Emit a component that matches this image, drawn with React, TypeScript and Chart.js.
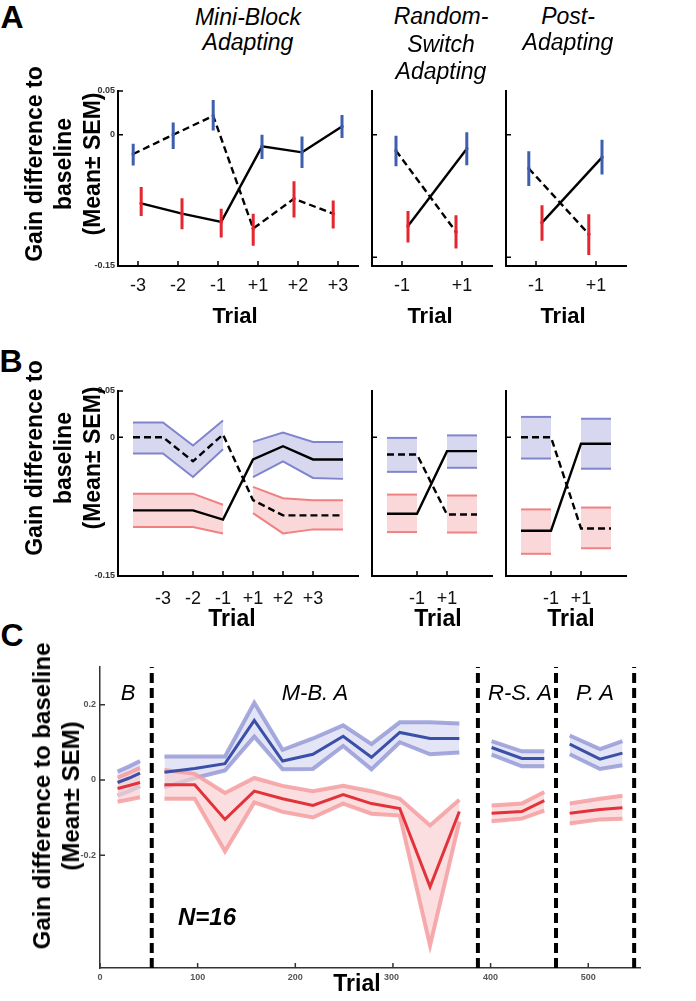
import React, { useEffect, useRef } from "react";
import { Chart, registerables } from "chart.js";
Chart.register(...registerables);

const FONT = '"Liberation Sans", Arial, Helvetica, sans-serif';

// ---------------- Panel A (error bars) ----------------
const aMiniTicks = [1, 2, 3, 4, 5, 6];
const aMiniTickLabels = ["-3", "-2", "-1", "+1", "+2", "+3"];
const aMiniBlueX = [0.88, 1.88, 2.88, 4.1, 5.1, 6.1];
const aMiniBlueMean = [-0.022, 0, 0.0216, -0.0133, -0.0201, 0.0095];
const aMiniBlueHi = [-0.0102, 0.014, 0.0398, 0, -0.0019, 0.0227];
const aMiniBlueLo = [-0.0352, -0.0163, 0.0049, -0.0277, -0.0379, -0.0038];
const aMiniRedX = [1.08, 2.1, 3.08, 3.88, 4.9, 5.88];
const aMiniRedMean = [-0.0784, -0.0902, -0.0996, -0.1072, -0.0731, -0.0902];
const aMiniRedHi = [-0.0598, -0.0727, -0.0845, -0.0902, -0.053, -0.075];
const aMiniRedLo = [-0.0928, -0.108, -0.1174, -0.1269, -0.0947, -0.1072];

const aPairTicks = [1, 2];
const aPairTickLabels = ["-1", "+1"];
const aRandBlueX = [0.9, 2.08];
const aRandBlueMean = [-0.0182, -0.0159];
const aRandBlueHi = [-0.0011, 0.003];
const aRandBlueLo = [-0.036, -0.0348];
const aRandRedX = [1.1, 1.9];
const aRandRedMean = [-0.1042, -0.111];
const aRandRedHi = [-0.0871, -0.092];
const aRandRedLo = [-0.1231, -0.13];

const aPostBlueX = [0.88, 2.1];
const aPostBlueMean = [-0.0386, -0.0258];
const aPostBlueHi = [-0.0189, -0.0057];
const aPostBlueLo = [-0.0587, -0.0455];
const aPostRedX = [1.1, 1.88];
const aPostRedMean = [-0.1004, -0.1136];
const aPostRedHi = [-0.0807, -0.0909];
const aPostRedLo = [-0.1212, -0.1375];

const abYTicks = [-0.15, 0, 0.05];
const abYTickLabels = ["-0.15", "0", "0.05"];
const abYTicksBare = [-0.14, 0];

// ---------------- Panel B (shaded bands) ----------------
const bMiniLeftX = [0, 1, 2, 3];
const bMiniRightX = [4, 5, 6, 7];
const bMiniTicks = [1, 2, 3, 4, 5, 6];
const bMiniTickLabels = ["-3", "-2", "-1", "+1", "+2", "+3"];
const bMiniBlueLMean = [0, 0, -0.026, 0.003];
const bMiniBlueLHi = [0.016, 0.016, -0.009, 0.018];
const bMiniBlueLLo = [-0.0176, -0.0176, -0.043, -0.013];
const bMiniRedLMean = [-0.079, -0.079, -0.079, -0.089];
const bMiniRedLHi = [-0.061, -0.061, -0.061, -0.073];
const bMiniRedLLo = [-0.097, -0.097, -0.097, -0.104];
const bMiniBlueRMean = [-0.024, -0.0097, -0.024, -0.024];
const bMiniBlueRHi = [-0.005, 0.005, -0.005, -0.005];
const bMiniBlueRLo = [-0.043, -0.026, -0.044, -0.045];
const bMiniRedRMean = [-0.068, -0.0845, -0.0845, -0.0845];
const bMiniRedRHi = [-0.0536, -0.066, -0.068, -0.068];
const bMiniRedRLo = [-0.082, -0.104, -0.0996, -0.0996];

const bPairLeftX = [0, 1];
const bPairRightX = [2, 3];
const bPairTicks = [1, 2];
const bPairTickLabels = ["-1", "+1"];
const bRandBlueLMean = [-0.0187, -0.0187];
const bRandBlueLHi = [-0.0007, -0.0007];
const bRandBlueLLo = [-0.0374, -0.0374];
const bRandRedLMean = [-0.0827, -0.0827];
const bRandRedLHi = [-0.062, -0.062];
const bRandRedLLo = [-0.1025, -0.1025];
const bRandBlueRMean = [-0.015, -0.015];
const bRandBlueRHi = [0.002, 0.002];
const bRandBlueRLo = [-0.033, -0.033];
const bRandRedRMean = [-0.0835, -0.0835];
const bRandRedRHi = [-0.063, -0.063];
const bRandRedRLo = [-0.103, -0.103];

const bPostBlueLMean = [0, 0];
const bPostBlueLHi = [0.022, 0.022];
const bPostBlueLLo = [-0.023, -0.023];
const bPostRedLMean = [-0.101, -0.101];
const bPostRedLHi = [-0.078, -0.078];
const bPostRedLLo = [-0.126, -0.126];
const bPostBlueRMean = [-0.007, -0.007];
const bPostBlueRHi = [0.02, 0.02];
const bPostBlueRLo = [-0.034, -0.034];
const bPostRedRMean = [-0.0986, -0.0986];
const bPostRedRHi = [-0.076, -0.076];
const bPostRedRLo = [-0.12, -0.12];

// ---------------- Panel C (time course) ----------------
const cXTicks = [0, 100, 200, 300, 400, 500];
const cXTickLabels = ["0", "100", "200", "", "400", "500"];
const cYTicks = [-0.2, 0, 0.2];
const cYTickLabels = ["-0.2", "0", "0.2"];
const cDividers = [53, 387, 467, 547];

const cBaseX = [18, 30, 41];
const cBaseBlueMean = [-0.007, 0.005, 0.018];
const cBaseBlueHi = [0.022, 0.036, 0.05];
const cBaseBlueLo = [-0.042, -0.03, -0.017];
const cBaseRedMean = [-0.023, -0.015, -0.007];
const cBaseRedHi = [0.006, 0.019, 0.032];
const cBaseRedLo = [-0.058, -0.052, -0.046];

const cMbaX = [66, 97, 128, 158, 187, 218, 249, 278, 307, 338, 368];
const cMbaBlueMean = [0.02, 0.03, 0.043, 0.158, 0.05, 0.068, 0.116, 0.06, 0.126, 0.11, 0.11];
const cMbaBlueHi = [0.062, 0.062, 0.062, 0.205, 0.08, 0.11, 0.145, 0.095, 0.153, 0.153, 0.15];
const cMbaBlueLo = [-0.02, 0.005, 0.025, 0.115, 0.028, 0.029, 0.09, 0.028, 0.1, 0.068, 0.073];
const cMbaRedMean = [-0.013, -0.013, -0.105, -0.03, -0.05, -0.068, -0.039, -0.063, -0.076, -0.284, -0.084];
const cMbaRedHi = [0.026, 0.016, -0.035, 0.005, -0.016, -0.03, -0.016, -0.03, -0.05, -0.121, -0.053];
const cMbaRedLo = [-0.05, -0.05, -0.19, -0.06, -0.085, -0.1, -0.063, -0.09, -0.095, -0.44, -0.111];

const cRsaX = [401, 432, 455];
const cRsaBlueMean = [0.086, 0.057, 0.057];
const cRsaBlueHi = [0.103, 0.076, 0.076];
const cRsaBlueLo = [0.067, 0.036, 0.036];
const cRsaRedMean = [-0.089, -0.084, -0.055];
const cRsaRedHi = [-0.068, -0.063, -0.032];
const cRsaRedLo = [-0.11, -0.103, -0.082];

const cPaX = [481, 512, 535];
const cPaBlueMean = [0.095, 0.055, 0.071];
const cPaBlueHi = [0.118, 0.082, 0.103];
const cPaBlueLo = [0.068, 0.029, 0.039];
const cPaRedMean = [-0.089, -0.079, -0.074];
const cPaRedHi = [-0.063, -0.05, -0.042];
const cPaRedLo = [-0.116, -0.105, -0.103];

// ---------------- styling ----------------
const A_BLUE = "#3e5eae";
const A_RED = "#e3262f";
const B_BLUE_EDGE = "rgb(128,132,204)";
const B_BLUE_FILL = "rgba(205,206,236,0.8)";
const B_RED_EDGE = "rgb(241,128,130)";
const B_RED_FILL = "rgba(249,206,208,0.8)";
const C_BLUE = "#3a4fa8";
const C_BLUE_EDGE = "rgba(150,155,215,0.85)";
const C_BLUE_FILL = "rgba(218,219,242,0.75)";
const C_RED = "#e2333a";
const C_RED_EDGE = "rgba(244,158,160,0.85)";
const C_RED_FILL = "rgba(250,208,210,0.7)";

const pts = (xs: number[], ys: number[]) => xs.map((x, i) => ({ x, y: ys[i] }));

function errBars(xs: number[], mean: number[], lo: number[], hi: number[], color: string) {
  const d: any[] = [];
  xs.forEach((x, i) => {
    d.push({ x, y: lo[i] }, { x, y: mean[i] }, { x, y: hi[i] }, { x, y: null });
  });
  return {
    data: d,
    borderColor: color,
    backgroundColor: color,
    borderWidth: 3,
    borderCapStyle: "butt",
    spanGaps: false,
    pointRadius: (c: any) => (c.dataIndex % 4 === 1 ? 1.8 : 0),
    pointBorderWidth: 0,
    pointBackgroundColor: color,
    order: 0,
  };
}

function blackLine(xs: number[], ys: number[], dashed: boolean, order = 1) {
  return {
    data: pts(xs, ys),
    borderColor: "#000",
    borderWidth: 2.4,
    borderDash: dashed ? [7, 4] : [],
    fill: false,
    order,
  };
}

function band(xs: number[], hi: number[], lo: number[], edge: string, fill: string, width: number, order: number) {
  return [
    { data: pts(xs, hi), borderColor: edge, borderWidth: width, fill: false, order },
    { data: pts(xs, lo), borderColor: edge, borderWidth: width, fill: "-1", backgroundColor: fill, order },
  ];
}

function meanLine(xs: number[], ys: number[], color: string) {
  return { data: pts(xs, ys), borderColor: color, borderWidth: 3, fill: false, order: 0 };
}

const innerTicks = {
  id: "innerTicks",
  afterDatasetsDraw(chart: any, _a: any, opts: any) {
    const { ctx, chartArea: a } = chart;
    const len = opts.len ?? 4;
    ctx.save();
    ctx.strokeStyle = opts.color ?? "#000";
    ctx.lineWidth = opts.width ?? 1.5;
    ctx.beginPath();
    for (const t of chart.scales.x.ticks) {
      const p = chart.scales.x.getPixelForValue(t.value);
      ctx.moveTo(p, a.bottom);
      ctx.lineTo(p, a.bottom - len);
    }
    for (const t of chart.scales.y.ticks) {
      const p = chart.scales.y.getPixelForValue(t.value);
      ctx.moveTo(a.left, p);
      ctx.lineTo(a.left + len, p);
    }
    ctx.stroke();
    ctx.restore();
  },
};

type AxisCfg = {
  min: number;
  max: number;
  ticks: number[];
  labels?: string[];
  font?: any;
  color?: string;
  pad?: number;
};

const PAD = { left: 4, top: 14, right: 30, bottom: 4 };

function Plot(props: {
  area: { L: number; T: number; R: number; B: number };
  yW: number;
  xH: number;
  x: AxisCfg;
  y: AxisCfg;
  datasets: any[];
  axisColor?: string;
  axisWidth?: number;
  tickColor?: string;
}) {
  const ref = useRef<HTMLCanvasElement>(null);
  const { area, yW, xH } = props;
  const w = area.R - area.L + yW + PAD.left + PAD.right;
  const h = area.B - area.T + xH + PAD.top + PAD.bottom;
  useEffect(() => {
    const mkAxis = (cfg: AxisCfg, isX: boolean) => ({
      type: "linear",
      min: cfg.min,
      max: cfg.max,
      offset: false,
      grid: { display: false, drawTicks: false },
      border: { display: true, color: props.axisColor ?? "#000", width: props.axisWidth ?? 2 },
      afterBuildTicks: (s: any) => {
        s.ticks = cfg.ticks.map((v) => ({ value: v }));
      },
      afterFit: (s: any) => {
        if (isX) s.height = xH;
        else s.width = yW;
      },
      ticks: {
        display: !!cfg.labels,
        autoSkip: false,
        maxRotation: 0,
        minRotation: 0,
        padding: cfg.pad ?? 4,
        color: cfg.color ?? "#000",
        font: cfg.font,
        callback: (_v: any, i: number) => (cfg.labels ? cfg.labels[i] : ""),
      },
    });
    const chart = new Chart(ref.current as HTMLCanvasElement, {
      type: "line",
      data: { datasets: props.datasets },
      options: {
        animation: false,
        responsive: false,
        maintainAspectRatio: false,
        layout: { padding: PAD },
        elements: { point: { radius: 0 }, line: { tension: 0 } },
        plugins: {
          legend: { display: false },
          tooltip: { enabled: false },
          innerTicks: { len: 5, color: props.tickColor ?? "#000", width: 1.5 },
        } as any,
        scales: { x: mkAxis(props.x, true), y: mkAxis(props.y, false) } as any,
      },
      plugins: [innerTicks as any],
    });
    return () => chart.destroy();
  }, []);
  return (
    <canvas
      ref={ref}
      width={w}
      height={h}
      style={{ position: "absolute", left: area.L - yW - PAD.left, top: area.T - PAD.top, width: w, height: h }}
    />
  );
}

function Txt(props: {
  x: number;
  y: number;
  size: number;
  bold?: boolean;
  italic?: boolean;
  rot?: boolean;
  lh?: number;
  children: any;
}) {
  return (
    <div
      style={{
        position: "absolute",
        left: props.x,
        top: props.y,
        transform: `translate(-50%,-50%)${props.rot ? " rotate(-90deg)" : ""}`,
        fontFamily: FONT,
        fontSize: props.size,
        fontWeight: props.bold ? 700 : 400,
        fontStyle: props.italic ? "italic" : "normal",
        lineHeight: `${props.lh ?? props.size}px`,
        whiteSpace: "nowrap",
        textAlign: "center",
        color: "#000",
        zIndex: 2,
      }}
    >
      {props.children}
    </div>
  );
}

const aTickFont = { family: FONT, size: 18 };
const abYFont = { family: FONT, size: 9, weight: "bold" };
const cTickFont = { family: FONT, size: 9, weight: "bold" };

function pairA(bx: number[], bm: number[], bl: number[], bh: number[], rx: number[], rm: number[], rl: number[], rh: number[]) {
  return [
    errBars(bx, bm, bl, bh, A_BLUE),
    errBars(rx, rm, rl, rh, A_RED),
    blackLine([bx[0], rx[1]], [bm[0], rm[1]], true),
    blackLine([rx[0], bx[1]], [rm[0], bm[1]], false),
  ];
}

function bandsB(lx: number[], rx: number[], bl: number[][], rl: number[][], br: number[][], rr: number[][]) {
  // each group: [mean, hi, lo]
  return [
    blackLine([...lx, ...rx], [...bl[0], ...rr[0]], true, 0),
    blackLine([...lx, ...rx], [...rl[0], ...br[0]], false, 0),
    ...band(lx, bl[1], bl[2], B_BLUE_EDGE, B_BLUE_FILL, 2, 1),
    ...band(rx, br[1], br[2], B_BLUE_EDGE, B_BLUE_FILL, 2, 1),
    ...band(lx, rl[1], rl[2], B_RED_EDGE, B_RED_FILL, 2, 1),
    ...band(rx, rr[1], rr[2], B_RED_EDGE, B_RED_FILL, 2, 1),
  ];
}

function cDatasets() {
  const segs = [
    [cBaseX, cBaseBlueMean, cBaseBlueHi, cBaseBlueLo, cBaseRedMean, cBaseRedHi, cBaseRedLo],
    [cMbaX, cMbaBlueMean, cMbaBlueHi, cMbaBlueLo, cMbaRedMean, cMbaRedHi, cMbaRedLo],
    [cRsaX, cRsaBlueMean, cRsaBlueHi, cRsaBlueLo, cRsaRedMean, cRsaRedHi, cRsaRedLo],
    [cPaX, cPaBlueMean, cPaBlueHi, cPaBlueLo, cPaRedMean, cPaRedHi, cPaRedLo],
  ];
  const ds: any[] = [];
  for (const s of segs) {
    ds.push(meanLine(s[0], s[4], C_RED));
    ds.push(meanLine(s[0], s[1], C_BLUE));
  }
  for (const s of segs) ds.push(...band(s[0], s[5], s[6], C_RED_EDGE, C_RED_FILL, 4, 1));
  for (const s of segs) ds.push(...band(s[0], s[2], s[3], C_BLUE_EDGE, C_BLUE_FILL, 4, 2));
  for (const d of cDividers) {
    ds.push({
      data: [
        { x: d, y: -0.5 },
        { x: d, y: 0.3 },
      ],
      borderColor: "#000",
      borderWidth: 4,
      borderDash: [10, 5],
      fill: false,
      order: 0,
    });
  }
  return ds;
}

export default function App() {
  const aY = (labels: boolean): AxisCfg =>
    labels
      ? { min: -0.15, max: 0.05, ticks: abYTicks, labels: abYTickLabels, font: abYFont, color: "#333", pad: 3 }
      : { min: -0.15, max: 0.05, ticks: abYTicksBare };
  return (
    <div style={{ position: "absolute", left: 0, top: 0, width: 696, height: 1001, background: "#fff", overflow: "hidden" }}>
      {/* Panel A */}
      <Plot
        area={{ L: 118, T: 91, R: 358, B: 266 }}
        yW={40}
        xH={40}
        x={{ min: 0.5, max: 6.5, ticks: aMiniTicks, labels: aMiniTickLabels, font: aTickFont, color: "#111", pad: 9 }}
        y={aY(true)}
        datasets={[
          errBars(aMiniBlueX, aMiniBlueMean, aMiniBlueLo, aMiniBlueHi, A_BLUE),
          errBars(aMiniRedX, aMiniRedMean, aMiniRedLo, aMiniRedHi, A_RED),
          blackLine([...aMiniBlueX.slice(0, 3), ...aMiniRedX.slice(3)], [...aMiniBlueMean.slice(0, 3), ...aMiniRedMean.slice(3)], true),
          blackLine([...aMiniRedX.slice(0, 3), ...aMiniBlueX.slice(3)], [...aMiniRedMean.slice(0, 3), ...aMiniBlueMean.slice(3)], false),
        ]}
      />
      <Plot
        area={{ L: 372, T: 91, R: 492, B: 266 }}
        yW={40}
        xH={40}
        x={{ min: 0.5, max: 2.5, ticks: aPairTicks, labels: aPairTickLabels, font: aTickFont, color: "#111", pad: 9 }}
        y={aY(false)}
        datasets={pairA(aRandBlueX, aRandBlueMean, aRandBlueLo, aRandBlueHi, aRandRedX, aRandRedMean, aRandRedLo, aRandRedHi)}
      />
      <Plot
        area={{ L: 506, T: 91, R: 626, B: 266 }}
        yW={40}
        xH={40}
        x={{ min: 0.5, max: 2.5, ticks: aPairTicks, labels: aPairTickLabels, font: aTickFont, color: "#111", pad: 9 }}
        y={aY(false)}
        datasets={pairA(aPostBlueX, aPostBlueMean, aPostBlueLo, aPostBlueHi, aPostRedX, aPostRedMean, aPostRedLo, aPostRedHi)}
      />

      {/* Panel B */}
      <Plot
        area={{ L: 118, T: 391, R: 358, B: 576 }}
        yW={40}
        xH={40}
        x={{ min: -0.5, max: 7.5, ticks: bMiniTicks, labels: bMiniTickLabels, font: aTickFont, color: "#111", pad: 12 }}
        y={aY(true)}
        datasets={bandsB(
          bMiniLeftX,
          bMiniRightX,
          [bMiniBlueLMean, bMiniBlueLHi, bMiniBlueLLo],
          [bMiniRedLMean, bMiniRedLHi, bMiniRedLLo],
          [bMiniBlueRMean, bMiniBlueRHi, bMiniBlueRLo],
          [bMiniRedRMean, bMiniRedRHi, bMiniRedRLo]
        )}
      />
      <Plot
        area={{ L: 372, T: 391, R: 492, B: 576 }}
        yW={40}
        xH={40}
        x={{ min: -0.5, max: 3.5, ticks: bPairTicks, labels: bPairTickLabels, font: aTickFont, color: "#111", pad: 12 }}
        y={{ min: -0.15, max: 0.05, ticks: [0] }}
        datasets={bandsB(
          bPairLeftX,
          bPairRightX,
          [bRandBlueLMean, bRandBlueLHi, bRandBlueLLo],
          [bRandRedLMean, bRandRedLHi, bRandRedLLo],
          [bRandBlueRMean, bRandBlueRHi, bRandBlueRLo],
          [bRandRedRMean, bRandRedRHi, bRandRedRLo]
        )}
      />
      <Plot
        area={{ L: 506, T: 391, R: 626, B: 576 }}
        yW={40}
        xH={40}
        x={{ min: -0.5, max: 3.5, ticks: bPairTicks, labels: bPairTickLabels, font: aTickFont, color: "#111", pad: 12 }}
        y={{ min: -0.15, max: 0.05, ticks: [0] }}
        datasets={bandsB(
          bPairLeftX,
          bPairRightX,
          [bPostBlueLMean, bPostBlueLHi, bPostBlueLLo],
          [bPostRedLMean, bPostRedLHi, bPostRedLLo],
          [bPostBlueRMean, bPostBlueRHi, bPostBlueRLo],
          [bPostRedRMean, bPostRedRHi, bPostRedRLo]
        )}
      />

      {/* Panel C */}
      <Plot
        area={{ L: 100, T: 667, R: 640, B: 968 }}
        yW={40}
        xH={30}
        axisColor="#333"
        axisWidth={1.5}
        tickColor="#333"
        x={{ min: 0, max: 553, ticks: cXTicks, labels: cXTickLabels, font: cTickFont, color: "#555", pad: 4 }}
        y={{ min: -0.5, max: 0.3, ticks: cYTicks, labels: cYTickLabels, font: cTickFont, color: "#555", pad: 4 }}
        datasets={cDatasets()}
      />

      {/* Panel letters */}
      <Txt x={12} y={17} size={32} bold>A</Txt>
      <Txt x={11} y={361} size={32} bold>B</Txt>
      <Txt x={12} y={635} size={32} bold>C</Txt>

      {/* Panel A titles */}
      <Txt x={248} y={17} size={23} italic>Mini-Block</Txt>
      <Txt x={248} y={42} size={23} italic>Adapting</Txt>
      <Txt x={441} y={16} size={23} italic>Random-</Txt>
      <Txt x={441} y={44} size={23} italic>Switch</Txt>
      <Txt x={441} y={71} size={23} italic>Adapting</Txt>
      <Txt x={568} y={16} size={23} italic>Post-</Txt>
      <Txt x={568} y={42} size={23} italic>Adapting</Txt>

      {/* Y titles */}
      <Txt x={63} y={164} size={23} bold rot lh={29}>
        Gain difference to<br />baseline<br />(Mean± SEM)
      </Txt>
      <Txt x={63} y={458} size={23} bold rot lh={29}>
        Gain difference to<br />baseline<br />(Mean± SEM)
      </Txt>
      <Txt x={56} y={796} size={24} bold rot lh={29}>
        Gain difference to baseline<br />(Mean± SEM)
      </Txt>

      {/* X titles */}
      <Txt x={235} y={316} size={22} bold>Trial</Txt>
      <Txt x={430} y={316} size={22} bold>Trial</Txt>
      <Txt x={563} y={316} size={22} bold>Trial</Txt>
      <Txt x={232} y={618} size={23} bold>Trial</Txt>
      <Txt x={438} y={618} size={23} bold>Trial</Txt>
      <Txt x={571} y={618} size={23} bold>Trial</Txt>
      <Txt x={357} y={983} size={23} bold>Trial</Txt>
      <div style={{ position: "absolute", left: 384, top: 973, fontFamily: FONT, fontSize: 9, fontWeight: 700, color: "#555", lineHeight: "9px", zIndex: 2 }}>300</div>

      {/* Panel C region labels */}
      <Txt x={128} y={693} size={22} italic>B</Txt>
      <Txt x={315} y={693} size={22} italic>M-B. A</Txt>
      <Txt x={520} y={693} size={22} italic>R-S. A</Txt>
      <Txt x={595} y={693} size={22} italic>P. A</Txt>
      <Txt x={207} y={917} size={24} bold italic>N=16</Txt>
    </div>
  );
}
